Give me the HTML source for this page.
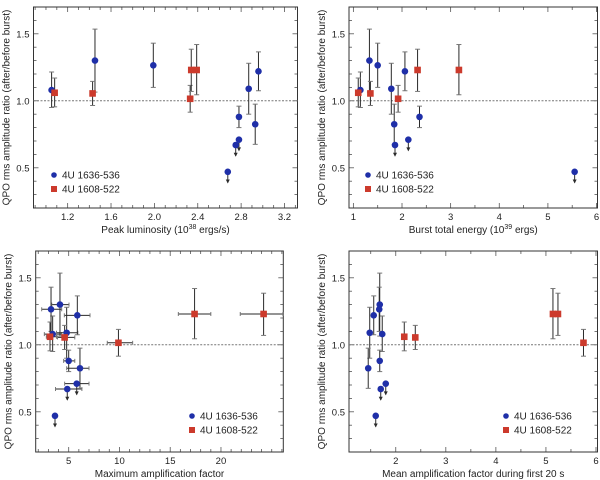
<!DOCTYPE html>
<html><head><meta charset="utf-8"><style>
html,body{margin:0;padding:0;background:#fff}
svg{display:block;font-family:"Liberation Sans","DejaVu Sans",sans-serif}
</style></head><body>
<svg id="fig" width="600" height="480" viewBox="0 0 600 480"></svg>
<script>
// shared y values (QPO rms ratio)
const blueY=[1.08,1.30,1.265,0.47,0.67,0.71,0.88,1.09,0.825,1.22];
const blueLo=[0.95,1.065,1.10,null,null,null,0.80,0.90,0.675,1.075];
const blueHi=[1.215,1.535,1.43,null,null,null,0.96,1.28,0.975,1.365];
const blueUL=[false,false,false,true,true,true,false,false,false,false];
const redY=[1.06,1.055,1.015,1.23,1.23];
const redLo=[0.955,0.965,0.915,1.07,1.045];
const redHi=[1.17,1.145,1.115,1.385,1.42];
// panel x values
const p1BlueX=[1.052,1.452,1.99,2.677,2.75,2.78,2.78,2.87,2.93,2.96];
const p1RedX=[1.08,1.43,2.33,2.34,2.39];
const p2BlueX=[1.144,1.33,1.5,5.55,1.856,2.13,2.36,1.78,1.84,2.06];
const p2RedX=[1.10,1.35,1.92,2.32,3.17];
const p3BlueX=[3.42,4.14,3.26,3.65,4.86,5.79,5.0,4.8,6.11,5.85];
const p3BlueXlo=[2.6,3.33,2.34,null,3.7,4.6,4.5,3.8,4.8,4.57];
const p3BlueXhi=[4.3,5.03,4.31,null,6.3,7.0,5.6,5.9,7.0,7.1];
const p3RedX=[3.16,4.6,9.9,24.2,17.4];
const p3RedXlo=[2.8,3.9,8.8,21.9,15.8];
const p3RedXhi=[3.8,5.6,11.3,26.1,19.0];
const p4BlueX=[1.73,1.68,1.67,1.60,1.70,1.80,1.68,1.48,1.45,1.56];
const p4RedX=[2.17,2.39,5.75,5.24,5.14];
const p1Ticks=[1.2,1.6,2.0,2.4,2.8,3.2];
const p2Ticks=[1,2,3,4,5,6];
const p3Ticks=[5,10,15,20];
const p4Ticks=[2,3,4,5,6];
const yTicks=[0.5,1.0,1.5];

const NS="http://www.w3.org/2000/svg";
const svg=document.getElementById('fig');
function mk(tag,attrs,parent){const e=document.createElementNS(NS,tag);for(const k in attrs)e.setAttribute(k,attrs[k]);(parent||svg).appendChild(e);return e;}

const BLUE="#1f2fa8",RED="#cc3a2c",EB="#2a2a2a";

function panel(cfg){
  const g=mk('g',{});
  
  
  const {L,R,T,B,xd}=cfg;
  const yd=[0.2,1.7];
  const sx=v=>L+(v-xd[0])/(xd[1]-xd[0])*(R-L);
  const sy=v=>B-(v-yd[0])/(yd[1]-yd[0])*(B-T);
  // minor ticks
  for(let v=Math.ceil(xd[0]/cfg.minor)*cfg.minor;v<=xd[1];v+=cfg.minor){
    const x=sx(v);const maj=cfg.ticks.some(t=>Math.abs(t-v)<1e-6);const len=maj?5:3;
    mk('line',{x1:x,x2:x,y1:B,y2:B-len,stroke:'#555','stroke-width':0.8},g);
    mk('line',{x1:x,x2:x,y1:T,y2:T+len,stroke:'#555','stroke-width':0.8},g);
  }
  for(let v=0.2;v<=1.7001;v+=0.1){
    const y=sy(v);const maj=yTicks.some(t=>Math.abs(t-v)<1e-6);const len=maj?5:3;
    mk('line',{x1:L,x2:L+len,y1:y,y2:y,stroke:'#555','stroke-width':0.8},g);
    mk('line',{x1:R,x2:R-len,y1:y,y2:y,stroke:'#555','stroke-width':0.8},g);
  }
  // frame
  const fr=mk('rect',{x:L,y:T,width:R-L,height:B-T,fill:'none',stroke:'#333','stroke-width':1},g);
  
  
  // ref line
  const rl=mk('line',{x1:L,x2:R,y1:sy(1),y2:sy(1),stroke:'#777','stroke-width':1,'stroke-dasharray':'2,1.5'},g);
  
  
  // tick labels
  cfg.ticks.forEach(t=>{
    const tx=mk('text',{x:sx(t),y:B+12,'font-size':9.5,'text-anchor':'middle',fill:'#222'},g);
    tx.textContent=cfg.fmt(t);
    
    
  });
  yTicks.forEach(t=>{
    const tx=mk('text',{x:L-4,y:sy(t)+3.5,'font-size':9.5,'text-anchor':'end',fill:'#222'},g);
    tx.textContent=t.toFixed(1);
    
    
  });
  // axis titles
  const xt=mk('text',{x:(L+R)/2,y:B+25,'font-size':10,'text-anchor':'middle',fill:'#222'},g);
  xt.innerHTML=cfg.xlabel;
  
  
  const yt=mk('text',{x:0,y:0,'font-size':10,'text-anchor':'middle',fill:'#222',transform:`translate(${L-24},${(T+B)/2}) rotate(-90)`},g);
  yt.textContent='QPO rms amplitude ratio (after/before burst)';
  
  
  function ebar(x,y,lo,hi,ul,xlo,xhi){
    if(xlo!=null&&xlo!==undefined){
      mk('line',{x1:sx(xlo),x2:sx(xhi),y1:sy(y),y2:sy(y),stroke:EB,'stroke-width':1},g);
      mk('line',{x1:sx(xlo),x2:sx(xlo),y1:sy(y)-2,y2:sy(y)+2,stroke:'#777','stroke-width':1},g);
      mk('line',{x1:sx(xhi),x2:sx(xhi),y1:sy(y)-2,y2:sy(y)+2,stroke:'#777','stroke-width':1},g);
    }
    if(ul){
      const y2=sy(y-0.08);
      mk('line',{x1:sx(x),x2:sx(x),y1:sy(y),y2:y2,stroke:EB,'stroke-width':1},g);
      mk('path',{d:`M${sx(x)-2},${y2-3} L${sx(x)+2},${y2-3} L${sx(x)},${y2+1} Z`,fill:EB},g);
    } else if(lo!=null){
      mk('line',{x1:sx(x),x2:sx(x),y1:sy(lo),y2:sy(hi),stroke:EB,'stroke-width':1},g);
      [lo,hi].forEach(v=>mk('line',{x1:sx(x)-2.5,x2:sx(x)+2.5,y1:sy(v),y2:sy(v),stroke:'#777','stroke-width':1},g));
    }
  }
  cfg.bx.forEach((x,i)=>ebar(x,blueY[i],blueLo[i],blueHi[i],blueUL[i],cfg.bxlo?cfg.bxlo[i]:null,cfg.bxhi?cfg.bxhi[i]:null));
  cfg.rx.forEach((x,i)=>ebar(x,redY[i],redLo[i],redHi[i],false,cfg.rxlo?cfg.rxlo[i]:null,cfg.rxhi?cfg.rxhi[i]:null));
  cfg.bx.forEach((x,i)=>{
    const c=mk('circle',{cx:sx(x),cy:sy(blueY[i]),r:3.3,fill:BLUE},g);
    
    
  });
  cfg.rx.forEach((x,i)=>{
    const c=mk('rect',{x:sx(x)-3.3,y:sy(redY[i])-3.3,width:6.6,height:6.6,fill:RED},g);
    
    
  });
  // legend
  const lg=mk('g',{},g);
  
  
  mk('circle',{cx:cfg.lx,cy:cfg.ly,r:2.8,fill:BLUE},lg);
  const t1=mk('text',{x:cfg.lx+8,y:cfg.ly+3.5,'font-size':10,fill:'#222'},lg);
  t1.textContent='4U 1636-536';
  
  
  mk('rect',{x:cfg.lx-3,y:cfg.ly+14-3,width:6,height:6,fill:RED},lg);
  const t2=mk('text',{x:cfg.lx+8,y:cfg.ly+17.5,'font-size':10,fill:'#222'},lg);
  t2.textContent='4U 1608-522';
  
  
}
panel({name:'panel-peak-luminosity',L:33.5,R:297.5,T:7,B:208,xd:[0.885,3.32],ticks:p1Ticks,minor:0.1,fmt:v=>v.toFixed(1),
  xlabel:'Peak luminosity (10<tspan font-size="7" dy="-4">38</tspan><tspan dy="4"> ergs/s)</tspan>',
  bx:p1BlueX,rx:p1RedX,lx:54,ly:175});
panel({name:'panel-burst-energy',L:349,R:597.5,T:7,B:208,xd:[0.91,6.02],ticks:p2Ticks,minor:0.5,fmt:v=>String(v),
  xlabel:'Burst total energy (10<tspan font-size="7" dy="-4">39</tspan><tspan dy="4"> ergs)</tspan>',
  bx:p2BlueX,rx:p2RedX,lx:368,ly:175});
panel({name:'panel-max-amplification',L:35.7,R:283.3,T:251,B:452,xd:[1.75,26.14],ticks:p3Ticks,minor:1,fmt:v=>String(v),
  xlabel:'Maximum amplification factor',
  bx:p3BlueX,rx:p3RedX,bxlo:p3BlueXlo,bxhi:p3BlueXhi,rxlo:p3RedXlo,rxhi:p3RedXhi,lx:192,ly:416});
panel({name:'panel-mean-amplification',L:349,R:597.5,T:251,B:452,xd:[1.066,6.03],ticks:p4Ticks,minor:0.5,fmt:v=>String(v),
  xlabel:'Mean amplification factor during first 20 s',
  bx:p4BlueX,rx:p4RedX,lx:506,ly:416});
</script>
</body></html>
